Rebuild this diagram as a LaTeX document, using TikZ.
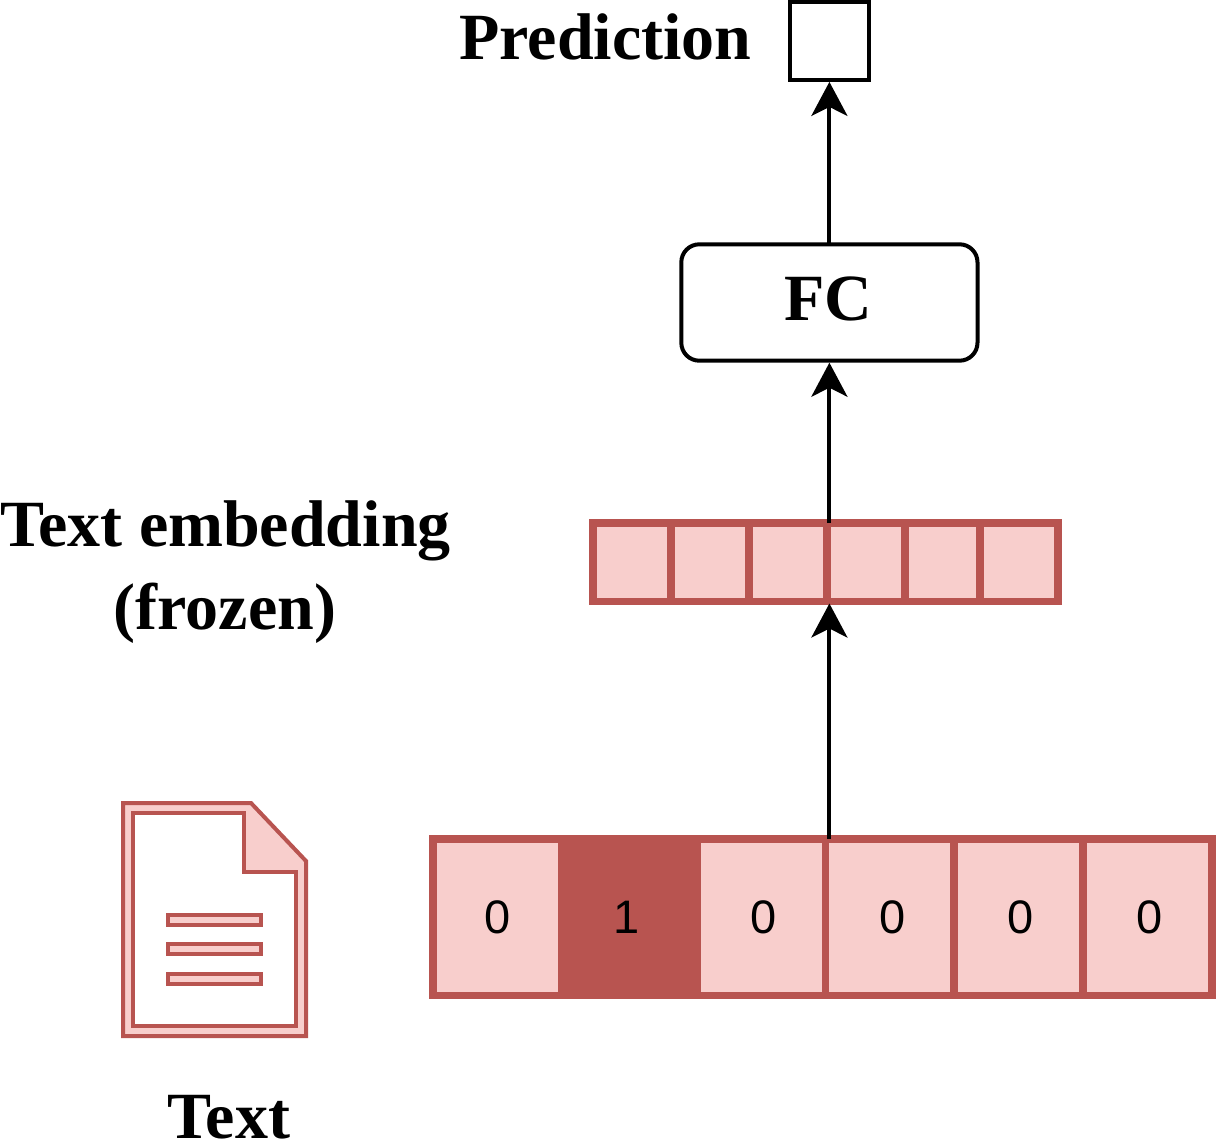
\documentclass[tikz,border=0pt]{standalone}
\usepackage{fontspec}
\setmainfont{Liberation Serif}
\newfontfamily\cellfont{Liberation Sans}
\usetikzlibrary{arrows.meta}
\definecolor{rdark}{HTML}{B85450}
\definecolor{rlight}{HTML}{F8CECC}
\tikzset{
  cellbox/.style={draw=rdark,fill=rlight,line width=7.5pt,rectangle,inner sep=0pt,outer sep=0pt,font=\cellfont\fontsize{47}{47}\selectfont},
  darkcell/.style={cellbox,fill=rdark},
  docline/.style={draw=rdark,fill=rlight,line width=4pt,line join=miter},
  blackbox/.style={draw=black,line width=4pt,fill=white,inner sep=0pt,outer sep=0pt},
  lab/.style={font=\bfseries\fontsize{66}{81}\selectfont,align=center,inner sep=0pt},
  conn/.style={draw=black,line width=4pt,shorten >=2pt,-{Stealth[length=34pt,width=36pt,inset=9pt]}}
}
\begin{document}
\begin{tikzpicture}[x=1pt,y=-1pt]
\useasboundingbox (0,0) rectangle (1216,1141);
% prediction and FC
\node[blackbox,minimum width=78.7pt,minimum height=78.2pt] (pred) at (829.4,40.8) {};
\node[lab,anchor=base] (predlab) at (605.3,59) {Prediction};
\node[blackbox,rounded corners=18pt,minimum width=296.2pt,minimum height=116.4pt] (fc) at (829.4,302.5) {};
\node[lab,anchor=base] (fclab) at (828.3,320) {FC};
% embedding
\foreach \n/\a/\b in {1/593/671,2/671/749,3/749/827,4/827/905,5/905/980,6/980/1058}{
  \node[cellbox,minimum width={(\b-\a)*1pt},minimum height=78.5pt] (e\n) at ({(\a+\b)/2},562.25) {};
}
\node[lab,anchor=base] (emblab) at (225.5,546.5) {Text embedding};
\node[lab,anchor=base] (emblabb) at (225,629) {(frozen)};
% one-hot
\foreach \n/\a/\b/\t in {1/433/561.7/0,3/697/825.5/0,4/825.5/954/0,5/954/1083/0,6/1083/1212/0}{
  \node[cellbox,minimum width={(\b-\a)*1pt},minimum height=156.5pt] (h\n) at ({(\a+\b)/2},917.25) {};
}
\node[darkcell,minimum width=135.3pt,minimum height=156.5pt] (h2) at (629.3,917.25) {};
\foreach \n/\x/\t in {1/498/0,2/627/1,3/764/0,4/892.5/0,5/1021/0,6/1150/0}{
  \node[font=\cellfont\fontsize{47}{47}\selectfont,inner sep=0pt] (t\n) at (\x,917.25) {\t};
}
% connectors
\draw[conn] (fc.north) -- (pred.south);
\draw[conn] (fc.south |- e4.north) -- (fc.south);
\draw[conn] (fc.south |- h4.north) -- (fc.south |- e4.south);
% document icon
\draw[docline,fill=rlight] (123,803) -- (251,803) -- (306,861) -- (306,1036) -- (123,1036) -- cycle;
\draw[docline,fill=white] (133,813) -- (244,813) -- (244,872) -- (296,872) -- (296,1026) -- (133,1026) -- cycle;
\draw[docline] (168,914.5) rectangle (261,924.5);
\draw[docline] (168,944) rectangle (261,954);
\draw[docline] (168,974) rectangle (261,984);
\node[lab,anchor=base] (textlab) at (229,1138) {Text};
\end{tikzpicture}
\end{document}
